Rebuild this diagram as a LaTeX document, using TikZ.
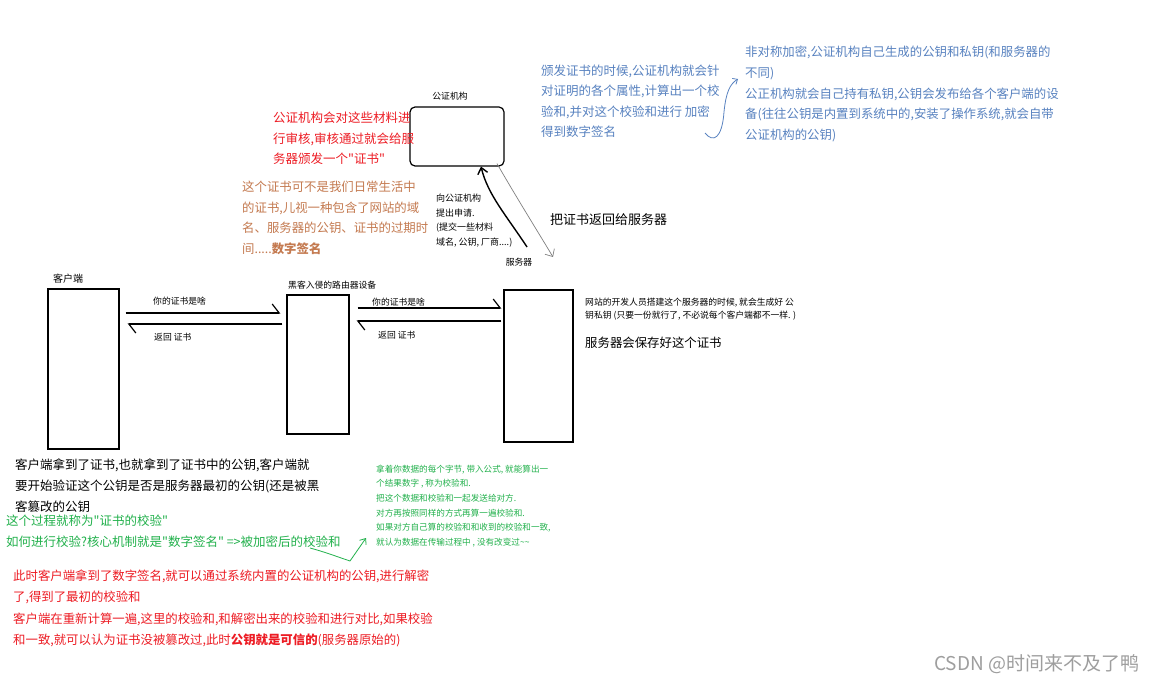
\documentclass[tikz,border=0pt]{standalone}
\usepackage{fontspec}
\setmainfont[Ligatures=TeXOff]{Noto Sans CJK SC}
\usetikzlibrary{arrows.meta}
\definecolor{notered}{RGB}{237,28,36}
\definecolor{notebrown}{RGB}{196,122,80}
\definecolor{noteblue}{RGB}{88,130,192}
\definecolor{notegreen}{RGB}{34,177,76}
\newcommand\txtsize[2]{\fontsize{#1}{#2}\selectfont}
\tikzset{
  box/.style={draw, line width=1.2pt, inner sep=0pt},
  msg/.style={line width=1.2pt, -{Straight Barb[harpoon, length=7pt, width=18pt]}},
  txt/.style={anchor=north west, inner sep=0pt, align=left},
  lbl/.style={inner sep=0pt, font=\txtsize{8.8}{10}},
  pen/.style={line width=1.4pt, -{Straight Barb[length=6pt, width=10pt]}},
}
\begin{document}
\begin{tikzpicture}[x=1pt, y=-1pt]
  \path[fill=white] (0,0) rectangle (1161,684);
  \useasboundingbox (0,0) rectangle (1161,684);
  \node[box, minimum width=71, minimum height=160] (client) at (83.5,369) {};
  \node[box, minimum width=62, minimum height=139] (router) at (318,364.5) {};
  \node[box, minimum width=69, minimum height=152] (server) at (538.5,366) {};
  \node[box, rounded corners=5pt, minimum width=94, minimum height=59] (ca) at (457,136.5) {};
  \node[lbl, anchor=west, font=\txtsize{10}{12}] (clientname) at (53,279) {客户端};
  \node[lbl, anchor=west] (routername) at (288,285) {黑客入侵的路由器设备};
  \node[lbl] (servername) at (519,262) {服务器};
  \node[lbl] (caname) at (450,96) {公证机构};
  \begin{scope}
    \draw[msg, shorten <=6, shorten >=6] (client.east |- 0,313) -- (router.west |- 0,313);
    \draw[msg, shorten <=4, shorten >=8] (router.west |- 0,324) -- (client.east |- 0,324);
    \draw[msg, shorten <=8, shorten >=2] (router.east |- 0,308) -- (server.west |- 0,308);
    \draw[msg, shorten <=2, shorten >=7] (server.west |- 0,321) -- (router.east |- 0,321);
  \end{scope}
  \node[lbl, anchor=west] (ask1) at (153,301) {你的证书是啥};
  \node[lbl, anchor=west] (back1) at (154,337) {返回 证书};
  \node[lbl, anchor=west] (ask2) at (372,302) {你的证书是啥};
  \node[lbl, anchor=west] (back2) at (378,335) {返回 证书};
  \coordinate (reqstart) at (527,247);
  \coordinate (retend) at (553,257);
  \draw[pen] (reqstart) .. controls (506,215) and (488,195) .. ([xshift=24]ca.south);
  \draw[gray, line width=0.7pt, -{Straight Barb[length=6pt, width=11pt]}]
    ([xshift=40,yshift=3]ca.south) .. controls (515,195) and (538,232) .. (retend);
  \node[txt, font=\txtsize{9}{14.8}] (request) at (436,193.5)
    {向公证机构\\提出申请.\\(提交一些材料\\域名, 公钥, 厂商....)};
  \node[txt, font=\txtsize{13}{15}] (giveback) at (550,213.5) {把证书返回给服务器};
  \node[txt, text=notered, font=\txtsize{12.5}{20.6}] (review) at (273,111.7)
    {公证机构会对这些材料进\\行审核,审核通过就会给服\\务器颁发一个"证书"};
  \node[txt, text=notebrown, font=\txtsize{12.4}{20.7}] (certnote) at (242,180.8)
    {这个证书可不是我们日常生活中\\的证书,儿视一种包含了网站的域\\名、服务器的公钥、证书的过期时\\间.....\textbf{数字签名}};
  \node[txt, text=noteblue, font=\txtsize{12.5}{20.3}] (signnote) at (541,64.8)
    {颁发证书的时候,公证机构就会针\\对证明的各个属性,计算出一个校\\验和,并对这个校验和进行 加密\\得到数字签名};
  \node[txt, text=noteblue, font=\txtsize{12.4}{20.8}] (keynote) at (745,45.8)
    {非对称加密,公证机构自己生成的公钥和私钥(和服务器的\\不同)\\公正机构就会自己持有私钥,公钥会发布给各个客户端的设\\备(往往公钥是内置到系统中的,安装了操作系统,就会自带\\公证机构的公钥)};
  \draw[noteblue, line width=0.8pt, -{Straight Barb[length=4pt, width=7pt]}]
    (705,133) .. controls (713,143) and (722,139) .. (724,112) .. controls (726,92) and (730,84) .. (738,79);
  \node[txt, font=\txtsize{8.8}{13.5}] (devnote) at (585,297.6)
    {网站的开发人员搭建这个服务器的时候, 就会生成好 公\\钥私钥 (只要一份就行了, 不必说每个客户端都不一样. )};
  \node[txt, font=\txtsize{12.4}{15}] (keepnote) at (585,336.8) {服务器会保存好这个证书};
  \node[txt, font=\txtsize{12.5}{21}] (checknote) at (15,458.7)
    {客户端拿到了证书,也就拿到了证书中的公钥,客户端就\\要开始验证这个公钥是否是服务器最初的公钥(还是被黑\\客篡改的公钥};
  \node[txt, text=notegreen, font=\txtsize{12.5}{21}] (howto) at (6,514.8)
    {这个过程就称为"证书的校验"\\如何进行校验?核心机制就是"数字签名" =>被加密后的校验和};
  \node[txt, text=notegreen, font=\txtsize{8.6}{14.6}] (sumnote) at (376,464.7)
    {拿着你数据的每个字节, 带入公式, 就能算出一\\个结果数字 , 称为校验和.\\把这个数据和校验和一起发送给对方.\\对方再按照同样的方式再算一遍校验和.\\如果对方自己算的校验和和收到的校验和一致,\\就认为数据在传输过程中 , 没有改变过\textasciitilde\textasciitilde};
  \draw[notegreen, line width=0.8pt, -{Straight Barb[length=5pt, width=8pt]}]
    (310,548) .. controls (325,552) and (338,557) .. (350,561) -- (366,538);
  \node[txt, text=notered, font=\txtsize{12.4}{21.3}] (verifynote) at (13,569.8)
    {此时客户端拿到了数字签名,就可以通过系统内置的公证机构的公钥,进行解密\\了,得到了最初的校验和\\客户端在重新计算一遍,这里的校验和,和解密出来的校验和进行对比,如果校验\\和一致,就可以认为证书没被篡改过,此时\textbf{公钥就是可信的}(服务器原始的)};
  \node[txt, text=black!38, font=\txtsize{19}{21}] (mark) at (934,654.5) {CSDN @时间来不及了鸭};
\end{tikzpicture}
\end{document}
